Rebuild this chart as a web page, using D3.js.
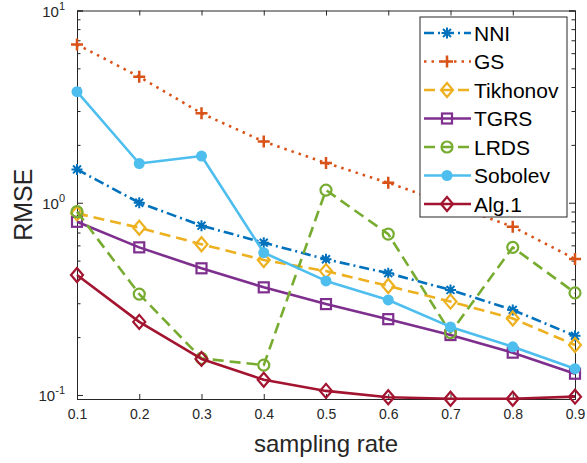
<!DOCTYPE html>
<html><head><meta charset="utf-8">
<script src="https://cdn.jsdelivr.net/npm/d3@7"></script>
<style>body{margin:0;background:#fff}svg{display:block;font-family:"Liberation Sans",Arial,sans-serif}</style>
</head><body><svg id="c" width="587" height="463"></svg>
<script>
const rates = [0.1,0.2,0.3,0.4,0.5,0.6,0.7,0.8,0.9];
const seriesNames = ["NNI","GS","Tikhonov","TGRS","LRDS","Sobolev","Alg.1"];
const nni      = [1.49,1.00,0.76,0.62,0.508,0.43,0.352,0.277,0.203];
const gs       = [6.66,4.52,2.92,2.08,1.61,1.27,0.98,0.75,0.51];
const tikhonov = [0.88,0.741,0.608,0.504,0.441,0.369,0.306,0.25,0.182];
const tgrs     = [0.796,0.586,0.456,0.363,0.297,0.248,0.205,0.166,0.129];
const lrds     = [0.898,0.335,0.155,0.143,1.164,0.687,0.211,0.586,0.34];
const sobolev  = [3.78,1.60,1.75,0.55,0.392,0.312,0.226,0.178,0.137];
const alg1     = [0.421,0.24,0.154,0.12,0.105,0.0973,0.0956,0.0956,0.098];
const xTicks = [0.1,0.2,0.3,0.4,0.5,0.6,0.7,0.8,0.9];
const yTicks = [0.1,1,10];
const yTickExp = ["-1","0","1"];

const colors = ["#0072BD","#D95319","#EDB120","#7E2F8E","#77AC30","#4DBEEE","#A2142F"];
const dashes = ["10,4,2,4","2.5,5","11,6",null,"11,6",null,null];
const markers = ["asterisk","plus","diamond","square","circle","dot","diamond"];
const data = [nni,gs,tikhonov,tgrs,lrds,sobolev,alg1];

const L=77,R=575,T=10.5,B=399;
const svg=d3.select("#c");
const x=d3.scaleLinear().domain([0.1,0.9]).range([L,R]);
const y=d3.scaleLog().domain([0.0953,10]).range([B,T]);
const axisCol="#262626";

const minorVals=[];
[0.01,0.1,1].forEach(d=>{for(let k=2;k<=9;k++){const v=+(d*k).toPrecision(3); if(v>=0.0953&&v<=10) minorVals.push(v);} });

const ax=svg.append("g");
const axB=d3.axisBottom(x).tickValues(xTicks).tickSize(-5).tickPadding(10).tickFormat(d3.format(".1f"));
const axT=d3.axisTop(x).tickValues(xTicks).tickSize(-5).tickFormat("");
const axL=d3.axisLeft(y).tickValues(yTicks).tickSize(-6).tickFormat("");
const axR=d3.axisRight(y).tickValues(yTicks).tickSize(-6).tickFormat("");
const axLm=d3.axisLeft(y).tickValues(minorVals).tickSize(-3.5).tickFormat("");
const axRm=d3.axisRight(y).tickValues(minorVals).tickSize(-3.5).tickFormat("");
function style(g){g.select(".domain").attr("stroke",axisCol).attr("stroke-width",1);g.selectAll(".tick line").attr("stroke",axisCol);g.selectAll("text").attr("fill",axisCol).style("font-size","14px").style("font-family","Liberation Sans, Arial, sans-serif");}
ax.append("g").attr("transform",`translate(0,${B})`).call(axB).call(style);
ax.append("g").attr("transform",`translate(0,${T})`).call(axT).call(style);
ax.append("g").attr("transform",`translate(${L},0)`).call(axL).call(style);
ax.append("g").attr("transform",`translate(${R},0)`).call(axR).call(style);
ax.append("g").attr("transform",`translate(${L},0)`).call(axLm).call(style).select(".domain").remove();
ax.append("g").attr("transform",`translate(${R},0)`).call(axRm).call(style).select(".domain").remove();

yTicks.forEach((v,i)=>{
  const t=svg.append("text").attr("x",L-12).attr("y",y(v)+6).attr("text-anchor","end").attr("fill",axisCol).style("font-size","15px");
  t.append("tspan").text("10");
  t.append("tspan").attr("dy",-7).style("font-size","11px").text(yTickExp[i]);
});

svg.append("text").attr("x",(L+R)/2).attr("y",452).attr("text-anchor","middle").attr("fill",axisCol).style("font-size","24px").text("sampling rate");
svg.append("text").attr("transform",`translate(32,${(T+B)/2}) rotate(-90)`).attr("text-anchor","middle").attr("fill",axisCol).style("font-size","25px").text("RMSE");

function drawMarker(g,type,cx,cy,col){
  const s=5.5;
  if(type==="asterisk"){
    g.append("path").attr("d",`M${cx-s},${cy}H${cx+s}M${cx},${cy-s}V${cy+s}M${cx-s*0.72},${cy-s*0.72}L${cx+s*0.72},${cy+s*0.72}M${cx-s*0.72},${cy+s*0.72}L${cx+s*0.72},${cy-s*0.72}`).attr("stroke",col).attr("stroke-width",2).attr("fill","none");
  } else if(type==="plus"){
    g.append("path").attr("d",`M${cx-s-0.5},${cy}H${cx+s+0.5}M${cx},${cy-s-0.5}V${cy+s+0.5}`).attr("stroke",col).attr("stroke-width",2.5).attr("fill","none");
  } else if(type==="diamond"){
    g.append("path").attr("d",`M${cx},${cy-7}L${cx+6},${cy}L${cx},${cy+7}L${cx-6},${cy}Z`).attr("stroke",col).attr("stroke-width",2.2).attr("fill","none");
  } else if(type==="square"){
    g.append("rect").attr("x",cx-5).attr("y",cy-5).attr("width",10).attr("height",10).attr("stroke",col).attr("stroke-width",2.2).attr("fill","none");
  } else if(type==="circle"){
    g.append("circle").attr("cx",cx).attr("cy",cy).attr("r",5.5).attr("stroke",col).attr("stroke-width",2.2).attr("fill","none");
  } else if(type==="dot"){
    g.append("circle").attr("cx",cx).attr("cy",cy).attr("r",5.5).attr("fill",col);
  }
}

const line=d3.line().x((d,i)=>x(rates[i])).y(d=>y(d));
const plot=svg.append("g");
data.forEach((vals,si)=>{
  const g=plot.append("g");
  g.append("path").attr("d",line(vals)).attr("fill","none").attr("stroke",colors[si]).attr("stroke-width",2.6)
    .attr("stroke-dasharray",dashes[si]).attr("stroke-linejoin","round");
  vals.forEach((v,i)=>drawMarker(g,markers[si],x(rates[i]),y(v),colors[si]));
});

const lg=svg.append("g");
lg.append("rect").attr("x",420).attr("y",17).attr("width",147).attr("height",200).attr("fill","#fff").attr("stroke",axisCol).attr("stroke-width",1);
seriesNames.forEach((n,i)=>{
  const yy=33+i*28.5;
  lg.append("line").attr("x1",424).attr("x2",471).attr("y1",yy).attr("y2",yy).attr("stroke",colors[i]).attr("stroke-width",2.6).attr("stroke-dasharray",dashes[i]);
  drawMarker(lg,markers[i],447,yy,colors[i]);
  lg.append("text").attr("x",474).attr("y",yy+7.5).attr("fill","#000").style("font-size","21px").text(n);
});
</script></body></html>
